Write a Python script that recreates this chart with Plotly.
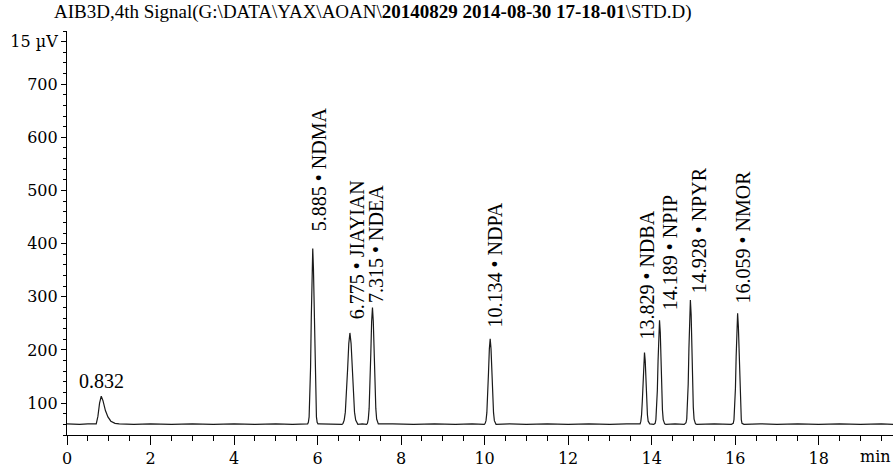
import plotly.graph_objects as go

# ---- data ----
title_plain = "AIB3D,4th Signal(G:\\DATA\\YAX\\AOAN\\"
title_bold = "20140829 2014-08-30 17-18-01"
title_tail = "\\STD.D)"

# signal trace (time in min, signal in µV) - baseline and peak outlines
trace_time = [
    0.00, 0.30, 0.50, 0.70, 0.74, 0.78, 0.82, 0.86, 0.92, 0.98, 1.05, 1.15, 1.25, 1.60, 2.00, 2.50,
    3.00, 3.50, 4.00, 4.50, 5.00, 5.40, 5.763, 5.780, 5.798, 5.815, 5.833, 5.850, 5.868, 5.885,
    5.902, 5.920, 5.938, 5.955, 5.973, 5.990, 6.010, 6.040, 6.30, 6.585, 6.610, 6.638, 6.665, 6.693,
    6.720, 6.748, 6.775, 6.803, 6.830, 6.858, 6.885, 6.913, 6.940, 6.965, 7.070, 7.175, 7.195, 7.215,
    7.235, 7.255, 7.275, 7.295, 7.315, 7.335, 7.355, 7.375, 7.395, 7.415, 7.435, 7.455, 7.80, 8.30,
    8.80, 9.30, 9.70, 9.994, 10.014, 10.034, 10.054, 10.074, 10.094, 10.114, 10.134, 10.154, 10.174,
    10.194, 10.214, 10.234, 10.254, 10.274, 10.60, 11.00, 11.50, 12.00, 12.50, 13.00, 13.40, 13.700,
    13.724, 13.742, 13.759, 13.777, 13.794, 13.812, 13.829, 13.847, 13.864, 13.882, 13.899, 13.917,
    13.934, 13.955, 14.050, 14.067, 14.084, 14.102, 14.119, 14.137, 14.154, 14.172, 14.189, 14.207,
    14.224, 14.242, 14.259, 14.277, 14.294, 14.312, 14.340, 14.560, 14.780, 14.806, 14.823, 14.841,
    14.858, 14.876, 14.893, 14.911, 14.928, 14.946, 14.963, 14.981, 14.998, 15.016, 15.033, 15.051,
    15.080, 15.500, 15.910, 15.937, 15.954, 15.972, 15.989, 16.007, 16.024, 16.042, 16.059, 16.077,
    16.094, 16.112, 16.129, 16.147, 16.164, 16.182, 16.210, 16.60, 17.00, 17.50, 18.00, 18.50, 19.00,
    19.50, 19.80,
]
trace_signal = [
    61, 60, 61, 61, 75, 100, 113, 105, 86, 74, 66, 62, 61, 60, 61, 60,
    61, 60, 61, 60, 61, 60, 61, 64, 74, 105, 168, 261, 352, 391,
    352, 261, 168, 105, 74, 64, 61, 61, 60, 60, 62, 68, 83, 116,
    164, 212, 232, 212, 164, 116, 83, 68, 62, 60, 61, 60, 62, 70,
    90, 131, 193, 253, 280, 253, 193, 131, 90, 70, 62, 61, 61, 60,
    61, 60, 61, 60, 62, 67, 82, 112, 158, 202, 221, 202, 158,
    112, 82, 67, 62, 60, 61, 60, 61, 60, 61, 60, 61, 60,
    61, 66, 78, 104, 142, 179, 195, 179, 142, 104, 78, 66,
    62, 61, 60, 60.5, 62, 69, 87, 124, 179, 233, 256, 233,
    179, 124, 87, 69, 62, 61, 60, 61, 60, 61, 63, 70,
    92, 136, 202, 267, 294, 267, 202, 136, 92, 70, 63, 61,
    60, 61, 60, 61, 62, 69, 88, 128, 187, 244, 269, 244,
    187, 128, 88, 69, 62, 61, 60, 61, 60, 61, 60, 61, 60,
    61, 60,
]

# peak labels
peak_rt = [5.885, 6.775, 7.315, 10.134, 13.829, 14.189, 14.928, 16.059]
peak_height = [391, 232, 280, 221, 195, 256, 294, 269]
peak_name = ["NDMA", "JIAYIAN", "NDEA", "NDPA", "NDBA", "NPIP", "NPYR", "NMOR"]
first_peak_rt = 0.832
first_peak_height = 113

x_tickvals = [0, 2, 4, 6, 8, 10, 12, 14, 16, 18]
y_tickvals = [100, 200, 300, 400, 500, 600, 700, 780]
y_ticktext = ["100", "200", "300", "400", "500", "600", "700", "15 µV"]

# label placement (pixels) relative to each peak apex
label_dx = [7, 8, 4, 5, 3, 10, 9, 5]
label_dy = [15, 12, 3, 9, 11, 8, 5, 8]

TICK_FONT = dict(family="DejaVu Serif", size=16, color="black")
LABEL_FONT = dict(family="Liberation Serif", size=20, color="black")

fig = go.Figure()
fig.add_trace(go.Scatter(
    x=trace_time, y=trace_signal, mode="lines",
    line=dict(color="#1a1a1a", width=1.2), hoverinfo="skip", showlegend=False,
))

annotations = []
for rt, h, name, dx, dy in zip(peak_rt, peak_height, peak_name, label_dx, label_dy):
    annotations.append(dict(
        x=rt, y=h, xref="x", yref="y", text=f"{rt:.3f} • {name}",
        textangle=-90, showarrow=False, xanchor="center", yanchor="bottom",
        xshift=dx, yshift=dy, font=LABEL_FONT,
    ))
annotations.append(dict(
    x=first_peak_rt, y=first_peak_height, xref="x", yref="y",
    text=f"{first_peak_rt:.3f}", showarrow=False, xanchor="center",
    yanchor="bottom", yshift=2, font=LABEL_FONT,
))
annotations.append(dict(
    x=19.37, y=0, xref="x", yref="paper", text="min", showarrow=False,
    xanchor="center", yanchor="top", yshift=-10, font=TICK_FONT,
))
annotations.append(dict(
    x=-0.018, y=1, xref="paper", yref="paper",
    text=title_plain + "<b>" + title_bold + "</b>" + title_tail,
    showarrow=False, xanchor="left", yanchor="bottom", yshift=6,
    font=dict(family="Liberation Serif", size=19, color="black"),
))

fig.update_layout(
    width=893, height=472,
    margin=dict(l=67, r=0, t=31, b=37, autoexpand=False),
    paper_bgcolor="white", plot_bgcolor="white",
    annotations=annotations,
    xaxis=dict(
        range=[0, 19.78], tickvals=x_tickvals, ticks="outside", ticklen=9,
        tickwidth=1.2, tickcolor="black", showline=True, linecolor="black",
        linewidth=1.2, showgrid=False, zeroline=False, tickfont=TICK_FONT,
        automargin=False,
        minor=dict(tickmode="linear", tick0=0, dtick=0.5, ticks="outside",
                   ticklen=5, tickwidth=1, tickcolor="black", showgrid=False),
    ),
    yaxis=dict(
        range=[40, 800], tickvals=y_tickvals, ticktext=y_ticktext,
        ticks="outside", ticklen=5, tickwidth=1.2, tickcolor="black",
        showline=True, linecolor="black", linewidth=1.2, showgrid=False,
        zeroline=False, tickfont=TICK_FONT, automargin=False,
        minor=dict(tickmode="linear", tick0=0, dtick=20, ticks="outside",
                   ticklen=3, tickwidth=1, tickcolor="black", showgrid=False),
    ),
)

fig.write_html(
    "out.html",
    config={"displayModeBar": False},
    post_script="document.body.style.margin='0';document.body.style.overflow='hidden';",
)
